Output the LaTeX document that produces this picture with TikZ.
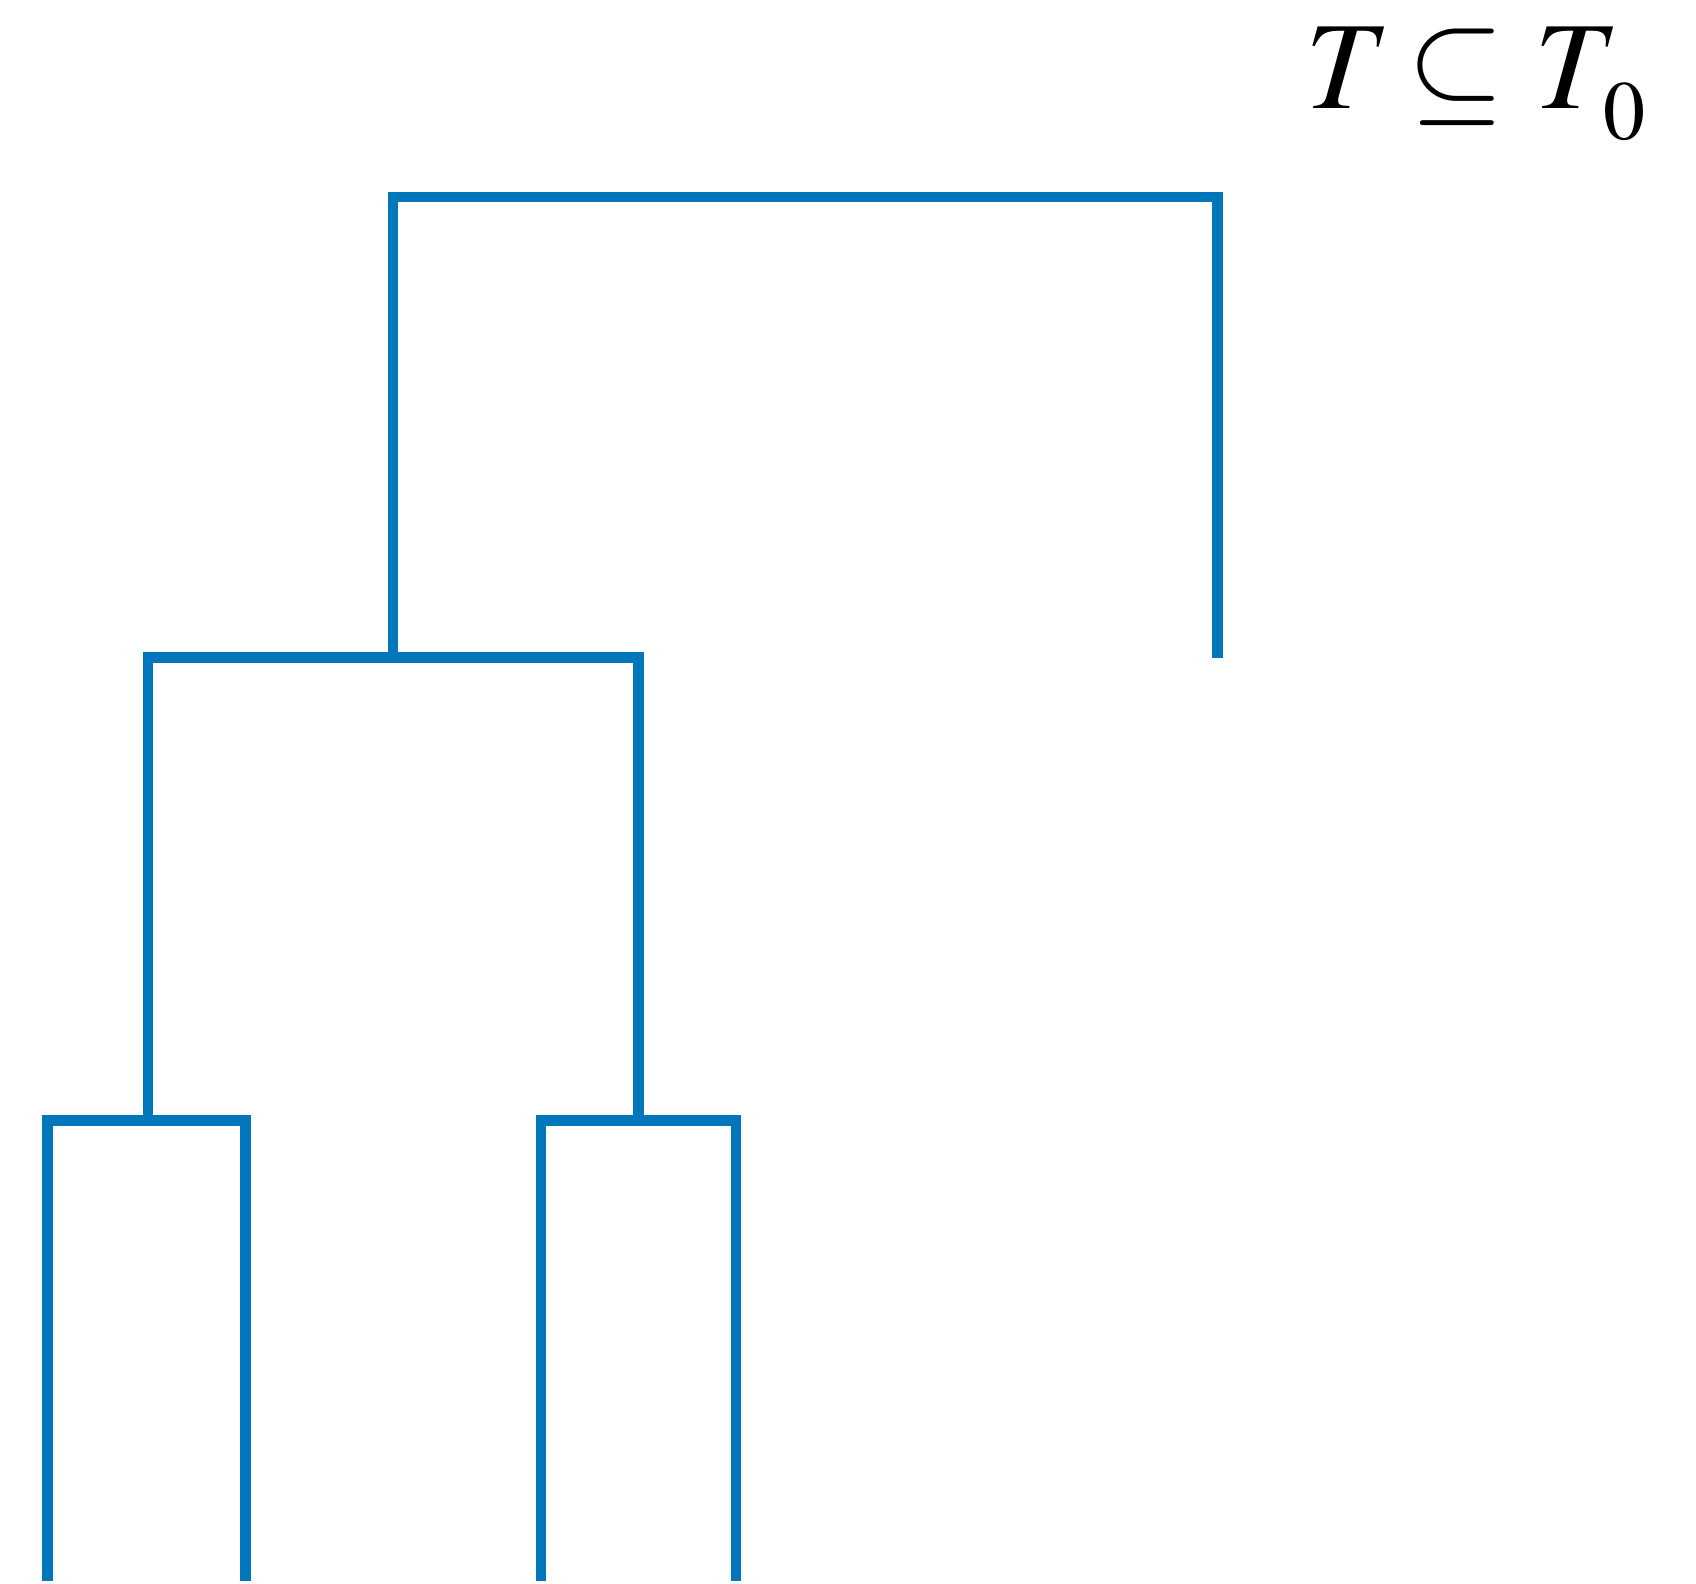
\documentclass[tikz,border=0pt]{standalone}
\usepackage{mathptmx}
\definecolor{dendro}{RGB}{0,119,187}
\begin{document}
\begin{tikzpicture}[x=1pt,y=-1pt,
  link/.style={draw=dendro,line width=10.5pt,line cap=butt,line join=miter}]
\useasboundingbox (0,0) rectangle (1696,1583);
% leaves
\coordinate (l1) at (47.3,1581);
\coordinate (l2) at (245.3,1581);
\coordinate (l3) at (540.8,1581);
\coordinate (l4) at (735.8,1581);
\coordinate (l5) at (1217.5,657.7);
% internal nodes
\coordinate (a) at (148,1120.5);
\coordinate (b) at (638.7,1120.5);
\coordinate (c) at (393,657.7);
\coordinate (r) at (805.25,197);
\draw[link] (l1) |- (a) -| (l2);
\draw[link] (l3) |- (b) -| (l4);
\draw[link] (a) |- (c) -| (b);
\draw[link] (c) |- (r) -| (l5);
\node[anchor=base west,inner sep=0pt,font=\fontsize{125}{135}\selectfont] (lbl) at (1305,108)
  {$T\mkern-1.56mu\mathrel{\subseteq}\mkern0.3mu T_{\kern8.7pt\raisebox{-13pt}{\fontsize{84}{90}\selectfont$0$}}$};
\end{tikzpicture}
\end{document}
